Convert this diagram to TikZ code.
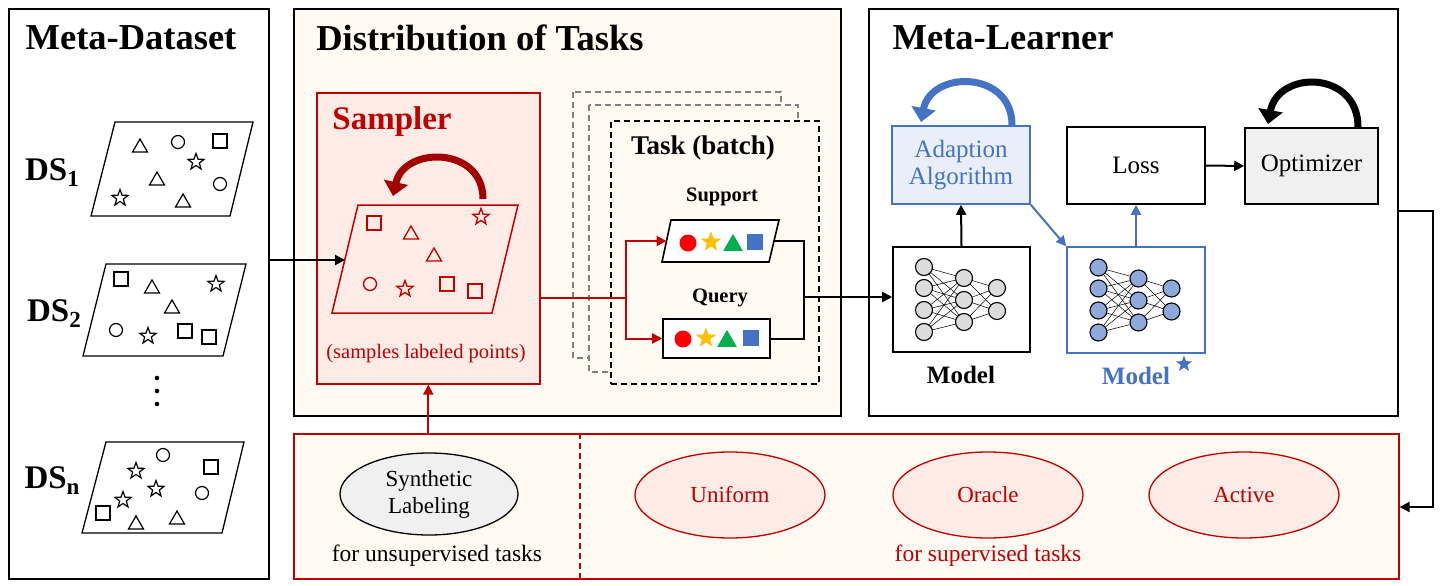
\documentclass[tikz,border=0pt]{standalone}
\usepackage{fontspec}
\setmainfont{Liberation Serif}
\usetikzlibrary{arrows.meta,shapes.geometric,calc}
\definecolor{rd}{HTML}{C00000}
\definecolor{bl}{HTML}{4472C4}
\definecolor{cream}{HTML}{FFFAF2}
\definecolor{pinkf}{HTML}{FDEBE5}
\definecolor{lblue}{HTML}{E9EEF8}
\definecolor{lgray}{HTML}{F0F0F0}
\definecolor{nngray}{HTML}{DCDCDC}
\definecolor{nnblue}{HTML}{8EA9DB}
\definecolor{gold}{HTML}{FFC000}
\definecolor{grn}{HTML}{00B050}
\tikzset{
  panel/.style={draw, line width=1.6pt, anchor=north west, inner sep=0pt},
  ttl/.style={font=\fontsize{36.5}{42}\selectfont\bfseries},
  box/.style={draw, line width=1.6pt, inner sep=0pt},
  lbl/.style={font=\fontsize{25}{29}\selectfont},
  arr/.style={line width=2pt, -{Triangle[length=10pt,width=10pt]}},
  ell/.style={ellipse, draw=rd, fill=pinkf, line width=1.3pt, text=rd, font=\fontsize{23}{27}\selectfont, minimum width=190pt, minimum height=86pt, inner sep=0pt},
  tri/.pic={\path[pic actions] (-7.5pt,-6pt) -- (7.5pt,-6pt) -- (0pt,7pt) -- cycle;},
  sq/.pic={\path[pic actions] (-7pt,-7pt) rectangle (7pt,7pt);},
  circ/.pic={\path[pic actions] (0pt,0pt) circle[radius=6.5pt];},
  str/.pic={\path[pic actions] (90:8.5pt) -- (126:3.5pt) -- (162:8.5pt) -- (198:3.5pt) -- (234:8.5pt) -- (270:3.5pt) -- (306:8.5pt) -- (342:3.5pt) -- (18:8.5pt) -- (54:3.5pt) -- cycle;},
  sh/.style={draw=black, line width=1.2pt},
  rsh/.style={draw=rd, line width=1.3pt},
}
\newcommand{\mynnet}[3]{%
\begin{scope}[shift={(#1,#2)}]
 \foreach \a in {-32.5,-11.5,10.5,32.5}{\foreach \b in {-21.5,0.5,22.5}{\draw[line width=0.5pt] (-37.5,\a) -- (2.5,\b);}}
 \foreach \b in {-21.5,0.5,22.5}{\foreach \c in {-11.5,11.5}{\draw[line width=0.5pt] (2.5,\b) -- (35.5,\c);}}
 \foreach \a in {-32.5,-11.5,10.5,32.5}{\draw[fill=#3,line width=1.1pt] (-37.5,\a) circle[radius=8.5];}
 \foreach \b in {-21.5,0.5,22.5}{\draw[fill=#3,line width=1.1pt] (2.5,\b) circle[radius=8.5];}
 \foreach \c in {-11.5,11.5}{\draw[fill=#3,line width=1.1pt] (35.5,\c) circle[radius=8.5];}
\end{scope}}
\begin{document}
\begin{tikzpicture}[x=1pt,y=-1pt]
\useasboundingbox (0,0) rectangle (1441,586);
\fill[white] (0,0) rectangle (1441,586);

% ---------------- panels
\node[panel, fill=white, minimum width=260pt, minimum height=570pt] (md) at (8,8) {};
\node[panel, fill=cream, minimum width=547pt, minimum height=407pt] (dist) at (293,8) {};
\node[panel, fill=white, minimum width=529pt, minimum height=407pt] (ml) at (868,8) {};
\node[panel, draw=rd, fill=cream, minimum width=1105pt, minimum height=145pt] (bot) at (293,433) {};

\node[ttl] (mdt) at (131,38) {Meta-Dataset};
\node[ttl] (distt) at (480,38) {Distribution of Tasks};
\node[ttl] (mlt) at (1003,38) {Meta-Learner};

% ---------------- Meta-Dataset
\newcommand{\dslab}[1]{\fontsize{33}{36}\selectfont\bfseries DS\raisebox{-6pt}{\fontsize{23}{24}\selectfont #1}}
\node (ds1) at (52,173) {\dslab{1}};
\node (ds2) at (54,314) {\dslab{2}};
\node (dsn) at (52,481) {\dslab{n}};

\draw[line width=1.3pt] (115,122) -- (253,122) -- (230,216) -- (91,216) -- cycle;
\pic[sh] at (140,146) {tri};
\pic[sh] at (178,142) {circ};
\pic[sh] at (220,141) {sq};
\pic[sh] at (196,162) {str};
\pic[sh] at (157,179) {tri};
\pic[sh] at (220,184) {circ};
\pic[sh] at (120,198) {str};
\pic[sh] at (183,201) {tri};

\draw[line width=1.3pt] (106,264) -- (246,264) -- (223,356) -- (83,356) -- cycle;
\pic[sh] at (121,279) {sq};
\pic[sh] at (152,287) {tri};
\pic[sh] at (216,284) {str};
\pic[sh] at (172,307) {tri};
\pic[sh] at (116,330) {circ};
\pic[sh] at (148,336) {str};
\pic[sh] at (185,331) {sq};
\pic[sh] at (209,337) {sq};

\foreach \yy in {378,391,404}{\fill (157,\yy) circle[radius=2.3];}

\draw[line width=1.3pt] (106,442) -- (244,442) -- (222,533) -- (82,533) -- cycle;
\pic[sh] at (163,455) {circ};
\pic[sh] at (136,471) {str};
\pic[sh] at (211,467) {sq};
\pic[sh] at (156,489) {str};
\pic[sh] at (202,493) {circ};
\pic[sh] at (123,500) {str};
\pic[sh] at (103,513) {sq};
\pic[sh] at (136,523) {tri};
\pic[sh] at (177,518) {tri};

% ---------------- Sampler
\node[panel, draw=rd, fill=pinkf, minimum width=223pt, minimum height=291pt] (smp) at (316,92) {};
\node[font=\fontsize{33}{38}\selectfont\bfseries, text=rd] (smpt) at (392,122) {Sampler};
\node[font=\fontsize{20.5}{24}\selectfont, text=rd] (smpl) at (426,354) {(samples labeled points)};
\draw[rd, line width=1.5pt] (358,205) -- (518,205) -- (492,313) -- (332,313) -- cycle;
\coordinate (spin) at (345,260);
\pic[rsh] at (374,223) {sq};
\pic[rsh] at (411,233) {tri};
\pic[rsh] at (481,217) {str};
\pic[rsh] at (434,255) {tri};
\pic[rsh] at (370,284) {circ};
\pic[rsh] at (405,289) {str};
\pic[rsh] at (447,284) {sq};
\pic[rsh] at (475,291) {sq};
\draw[rd!85!black, line width=7pt, -{Triangle[length=14pt,width=24pt]}] (483,199) .. controls (483,146) and (404,146) .. (393,196);

% ---------------- Task boxes
\draw[gray, dash pattern=on 6pt off 4pt, line width=1.3pt, fill=cream] (573,92) rectangle (781,358);
\draw[gray, dash pattern=on 6pt off 4pt, line width=1.3pt, fill=cream] (589,105) rectangle (798,372);
\node[panel, dash pattern=on 6pt off 4pt, fill=cream, minimum width=208pt, minimum height=263pt] (task) at (610,120) {};
\node[font=\fontsize{27}{31}\selectfont\bfseries] (taskt) at (703,148) {Task (batch)};
\node[font=\fontsize{20.5}{24}\selectfont\bfseries] (supt) at (722,197) {Support};
\node[font=\fontsize{20.5}{24}\selectfont\bfseries] (qryt) at (720,298) {Query};

\draw[line width=1.6pt, fill=white] (671,220) -- (779,220) -- (769,262) -- (662,262) -- cycle;
\coordinate (supL) at (666.5,241);
\coordinate (supR) at (774,241);
\node[box, fill=white, minimum width=107pt, minimum height=39pt] (qry) at (716.5,338.5) {};

\fill[red] (688,243) circle[radius=8.5];
\pic[fill=gold, scale=1.25] at (711,242) {str};
\pic[fill=grn, scale=1.3] at (733,243) {tri};
\pic[fill=bl, scale=1.1] at (755,242) {sq};
\fill[red] (683,339) circle[radius=8.5];
\pic[fill=gold, scale=1.25] at (706,338) {str};
\pic[fill=grn, scale=1.3] at (727,339) {tri};
\pic[fill=bl, scale=1.1] at (751,338) {sq};

% ---------------- Meta-Learner
\node[box, draw=bl, fill=lblue, text=bl, lbl, align=center, minimum width=138pt, minimum height=78pt] (adapt) at (961,165) {Adaption\\[-2pt]Algorithm};
\node[box, fill=white, lbl, minimum width=138pt, minimum height=77pt] (loss) at (1136,165.5) {Loss};
\node[box, fill=lgray, lbl, minimum width=133pt, minimum height=76pt] (opt) at (1311.5,166) {Optimizer};
\node[box, fill=white, minimum width=137pt, minimum height=105pt] (model) at (961.5,299.5) {};
\node[box, draw=bl, fill=white, minimum width=138pt, minimum height=106pt] (models) at (1136,300) {};
\mynnet{961.5}{299.5}{nngray}
\mynnet{1136}{300}{nnblue}
\node[font=\fontsize{25}{28}\selectfont\bfseries] (mlab) at (961,375) {Model};
\node[font=\fontsize{25}{28}\selectfont\bfseries, text=bl] (mslab) at (1136,376) {Model};
\pic[fill=bl, scale=1.0] at (1184,364) {str};

\draw[arr] (model.north) -- (adapt.south);
\draw[arr, bl] (adapt.south east) -- (models.north west);
\draw[arr, bl] (models.north) -- (loss.south);
\draw[arr] (loss.east) -- (opt.west);
\draw[bl, line width=7pt, -{Triangle[length=14pt,width=24pt]}] (1012,125) .. controls (1012,70) and (931,70) .. (921,122);
\draw[black, line width=7pt, -{Triangle[length=14pt,width=24pt]}] (1358,127) .. controls (1358,70) and (1278,70) .. (1268,124);

% ---------------- bottom panel
\draw[rd, dash pattern=on 6pt off 4pt, line width=1.2pt] (580,433) -- (580,578);
\node[ellipse, draw=black, fill=lgray, line width=1.3pt, font=\fontsize{23}{27}\selectfont, align=center, minimum width=178pt, minimum height=82pt, inner sep=0pt] (syn) at (429,494) {Synthetic\\Labeling};
\node[ell] (uni) at (730,495) {Uniform};
\node[ell] (orc) at (988,495) {Oracle};
\node[ell] (act) at (1244,495) {Active};
\node[font=\fontsize{23.5}{27}\selectfont] (unsup) at (437,556) {for unsupervised tasks};
\node[font=\fontsize{23.5}{27}\selectfont, text=rd] (sup) at (988,556) {for supervised tasks};

% ---------------- connectors
\draw[arr] (md.east |- spin) -- (spin);
\coordinate (split) at (626,298);
\coordinate (mrg) at (804,297);
\draw[rd, line width=2pt] (smp.east |- split) -- (split);
\draw[rd, arr] (split) |- (supL);
\draw[rd, arr] (split) |- (qry.west);
\draw[line width=2pt] (supR) -| (mrg) |- (qry.east);
\draw[arr] (mrg) -- (model.west |- mrg);
\draw[rd, arr] (smp.south |- bot.north) -- (smp.south);
\coordinate (r1) at (1433,211);
\coordinate (r2) at (1433,507);
\draw[arr] (ml.east |- r1) -- (r1) -- (r2) -- (bot.east |- r2);
\end{tikzpicture}
\end{document}
